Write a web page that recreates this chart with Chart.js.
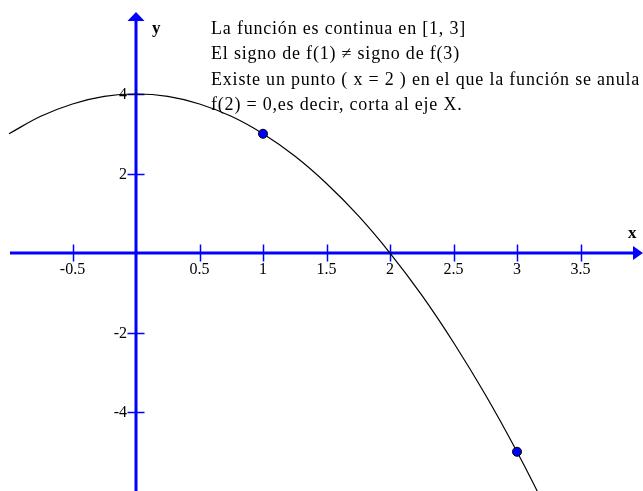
<!DOCTYPE html>
<html><head><meta charset="utf-8">
<script src="https://cdn.jsdelivr.net/npm/chart.js@4/dist/chart.umd.min.js"></script>
<style>html,body{margin:0;padding:0;background:#fff;overflow:hidden}#wrap{width:643px;height:491px;position:relative}</style>
</head><body><div id="wrap"><canvas id="c" width="643" height="491"></canvas></div>
<script>
const curveX = [-1, -0.75, -0.5, -0.25, 0, 0.25, 0.5, 0.75, 1, 1.25, 1.5, 1.75, 2, 2.25, 2.5, 2.75, 3, 3.25];
const curveY = [3, 3.44, 3.75, 3.94, 4, 3.94, 3.75, 3.44, 3, 2.44, 1.75, 0.94, 0, -1.06, -2.25, -3.56, -5, -6.56];
const pointX = [1, 3];
const pointY = [3, -5];
const xTickValues = [-0.5, 0.5, 1, 1.5, 2, 2.5, 3, 3.5];
const xTickLabels = ['-0.5', '0.5', '1', '1.5', '2', '2.5', '3', '3.5'];
const yTickValues = [4, 2, -2, -4];
const yTickLabels = ['4', '2', '-2', '-4'];
const axisNames = ['x', 'y'];
const noteLines = [
  'La función es continua en [1, 3]',
  'El signo de f(1) \u2260 signo de f(3)',
  'Existe un punto ( x = 2 ) en el que la función se anula',
  'f(2) = 0,es decir, corta al eje X.'
];

const BLUE = '#0000ff';
const SERIF = '"Liberation Serif", "Times New Roman", serif';

const axesPlugin = {
  id: 'axesPlugin',
  beforeDatasetsDraw(chart) {
    const ctx = chart.ctx;
    const xs = chart.scales.x, ys = chart.scales.y;
    const a = chart.chartArea;
    const x0 = xs.getPixelForValue(0), y0 = ys.getPixelForValue(0);
    ctx.save();
    ctx.strokeStyle = BLUE; ctx.fillStyle = BLUE;
    // x axis
    ctx.lineWidth = 3;
    ctx.beginPath(); ctx.moveTo(10, y0); ctx.lineTo(a.right - 8, y0); ctx.stroke();
    ctx.beginPath(); ctx.moveTo(a.right, y0); ctx.lineTo(a.right - 10, y0 - 7); ctx.lineTo(a.right - 10, y0 + 7); ctx.closePath(); ctx.fill();
    // y axis
    ctx.beginPath(); ctx.moveTo(x0, a.bottom); ctx.lineTo(x0, 20); ctx.stroke();
    ctx.beginPath(); ctx.moveTo(x0, 12); ctx.lineTo(x0 - 8.5, 21); ctx.lineTo(x0 + 8.5, 21); ctx.closePath(); ctx.fill();
    // ticks
    ctx.lineWidth = 1.5;
    xTickValues.forEach(v => {
      const px = Math.round(xs.getPixelForValue(v)) + 0.5;
      ctx.beginPath(); ctx.moveTo(px, y0 - 8.5); ctx.lineTo(px, y0 + 8.5); ctx.stroke();
    });
    yTickValues.forEach(v => {
      const py = Math.round(ys.getPixelForValue(v)) + 0.5;
      ctx.beginPath(); ctx.moveTo(x0 - 8.5, py); ctx.lineTo(x0 + 8.5, py); ctx.stroke();
    });
    // tick labels
    ctx.fillStyle = '#000';
    ctx.font = '16px ' + SERIF;
    ctx.textAlign = 'center'; ctx.textBaseline = 'alphabetic';
    xTickValues.forEach((v, i) => {
      ctx.fillText(xTickLabels[i], xs.getPixelForValue(v), y0 + 21);
    });
    ctx.textAlign = 'right'; ctx.textBaseline = 'middle';
    yTickValues.forEach((v, i) => {
      ctx.fillText(yTickLabels[i], x0 - 9, ys.getPixelForValue(v) + 1);
    });
    ctx.restore();
  },
  afterDraw(chart) {
    const ctx = chart.ctx;
    const xs = chart.scales.x, ys = chart.scales.y;
    const x0 = xs.getPixelForValue(0), y0 = ys.getPixelForValue(0);
    ctx.save();
    ctx.fillStyle = '#000';
    ctx.font = 'bold 17px ' + SERIF;
    ctx.textAlign = 'left'; ctx.textBaseline = 'alphabetic';
    ctx.fillText(axisNames[0], 628, y0 - 15);
    ctx.fillText(axisNames[1], x0 + 16, 33);
    ctx.font = '18px ' + SERIF;
    ctx.letterSpacing = '0.8px';
    noteLines.forEach((t, i) => ctx.fillText(t, 211, 33.5 + i * 25.5));
    ctx.restore();
  }
};

new Chart(document.getElementById('c'), {
  type: 'scatter',
  data: {
    datasets: [
      {
        data: pointX.map((x, i) => ({ x, y: pointY[i] })),
        pointRadius: 4.5, pointBackgroundColor: BLUE, pointBorderColor: '#000', pointBorderWidth: 1,
        showLine: false
      },
      {
        data: curveX.map((x, i) => ({ x, y: curveY[i] })),
        showLine: true, pointRadius: 0, borderColor: '#000', borderWidth: 1.2, tension: 0.4, fill: false
      }
    ]
  },
  options: {
    responsive: false, animation: false, devicePixelRatio: 1,
    layout: { padding: 0, autoPadding: false },
    plugins: { legend: { display: false }, tooltip: { enabled: false }, title: { display: false } },
    scales: {
      x: { type: 'linear', display: false, min: -1.0709, max: 3.9921 },
      y: { type: 'linear', display: false, min: -5.987, max: 6.365 }
    }
  },
  plugins: [axesPlugin]
});
</script>
</body></html>
